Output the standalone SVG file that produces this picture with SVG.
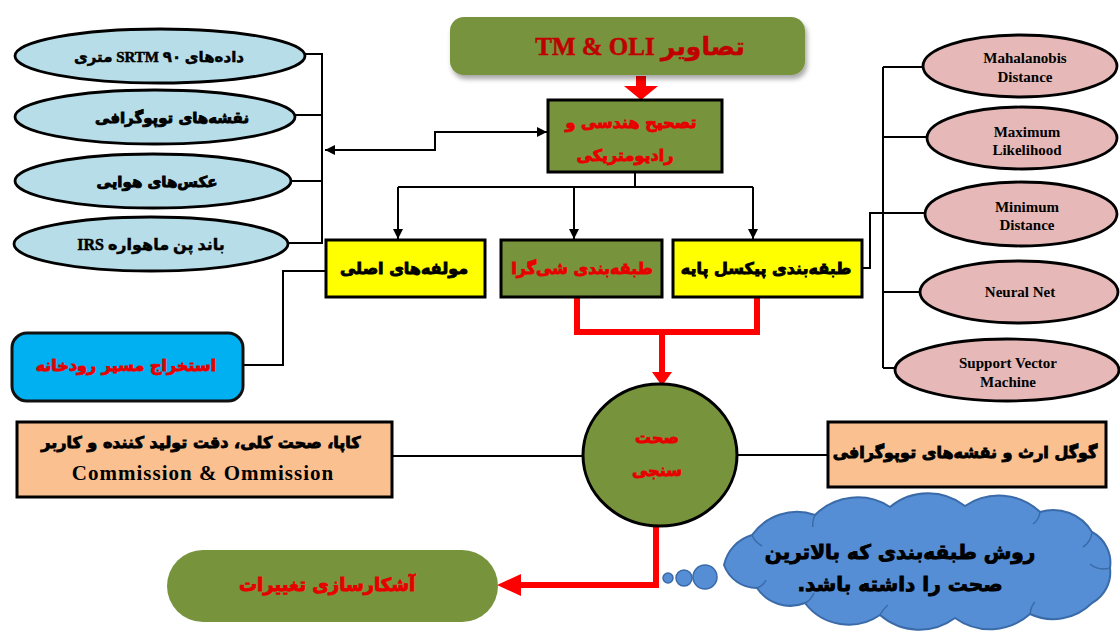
<svg xmlns="http://www.w3.org/2000/svg" width="1120" height="634" viewBox="0 0 1120 634">
<defs>
<marker id="ab" viewBox="0 0 10 10" refX="10" refY="5" markerWidth="10" markerHeight="10" markerUnits="userSpaceOnUse" orient="auto-start-reverse"><path d="M0,0 L10,5 L0,10 z" fill="#000"/></marker>
<filter id="sh" x="-10%" y="-20%" width="130%" height="160%"><feDropShadow dx="2" dy="4" stdDeviation="2.5" flood-color="#000" flood-opacity="0.35"/></filter>
</defs>
<style>
.fa{font-family:"DejaVu Sans",sans-serif;font-weight:bold;text-anchor:middle;stroke-width:0.9;}
.mx{font-family:"Liberation Serif","DejaVu Sans",serif;font-weight:bold;text-anchor:middle;stroke-width:0.5;}
.en{font-family:"Liberation Serif",serif;font-weight:bold;text-anchor:middle;}
.blue{fill:#b7dee8;stroke:#000;stroke-width:2.8;}
.pink{fill:#e6b9b8;stroke:#000;stroke-width:2.8;}
.olive{fill:#77933c;}
.box{stroke:#000;stroke-width:3;}
.ln{fill:none;stroke:#000;stroke-width:2;}
.rl{fill:none;stroke:#ff0000;stroke-width:6;}
.red{fill:#e60000;stroke:#e60000;}
.blk{fill:#000;stroke:#000;}
.cl{fill:#558ed5;stroke:#3a6aa8;}
</style>

<!-- connectors -->
<g id="connectors">
  <polyline class="ln" points="305,54 322,54 322,243 288,243"/>
  <line class="ln" x1="295" y1="115" x2="322" y2="115"/>
  <line class="ln" x1="292" y1="181" x2="322" y2="181"/>
  <polyline class="ln" points="325,150 435,150 435,132 547,132" marker-start="url(#ab)" marker-end="url(#ab)"/>
  <polygon points="636,76 646,76 646,86 658,86 641,100 624,86 636,86" fill="#ff0000"/>
  <polyline class="ln" points="635,172 635,187"/>
  <line class="ln" x1="398" y1="187" x2="753" y2="187"/>
  <line class="ln" x1="398" y1="187" x2="398" y2="239" marker-end="url(#ab)"/>
  <line class="ln" x1="574" y1="187" x2="574" y2="239" marker-end="url(#ab)"/>
  <line class="ln" x1="753" y1="187" x2="753" y2="239" marker-end="url(#ab)"/>
  <polyline class="ln" points="326,271 283,271 283,365 243,365"/>
  <polyline class="ln" points="862,268 870,268 870,213 883,213"/>
  <line class="ln" x1="883" y1="67" x2="883" y2="368"/>
  <line class="ln" x1="883" y1="67" x2="922" y2="67"/>
  <line class="ln" x1="883" y1="137" x2="927" y2="137"/>
  <line class="ln" x1="883" y1="213" x2="925" y2="213"/>
  <line class="ln" x1="883" y1="292" x2="920" y2="292"/>
  <line class="ln" x1="883" y1="368" x2="897" y2="368"/>
  <polyline class="rl" points="577,297 577,332 757,332 757,297"/>
  <line class="rl" x1="662" y1="332" x2="662" y2="374"/>
  <polygon points="652,372 672,372 662,386" fill="#ff0000"/>
  <line class="ln" x1="392" y1="456" x2="584" y2="456"/>
  <line class="ln" x1="737" y1="455" x2="828" y2="455"/>
  <polyline class="rl" points="656,524 656,585 518,585"/>
  <polygon points="521,574 521,596 497,585" fill="#ff0000"/>
</g>

<!-- left ellipses -->
<g id="srtm"><ellipse class="blue" cx="160" cy="56" rx="145" ry="27"/><text class="mx blk" x="159" y="62" font-size="15" direction="rtl">داده‌های SRTM ۹۰ متری</text></g>
<g id="topo"><ellipse class="blue" cx="155" cy="117" rx="140" ry="27"/><text class="fa blk" x="172" y="123" font-size="15" direction="rtl">نقشه‌های توپوگرافی</text></g>
<g id="aerial"><ellipse class="blue" cx="153" cy="181" rx="138" ry="27"/><text class="fa blk" x="157" y="187" font-size="15" direction="rtl">عکس‌های هوایی</text></g>
<g id="irs"><ellipse class="blue" cx="151" cy="244" rx="137" ry="27"/><text class="mx blk" x="151" y="250" font-size="16" direction="rtl">باند پن ماهواره IRS</text></g>

<!-- top title -->
<g id="images"><rect class="olive" x="450" y="17" width="355" height="58" rx="14" filter="url(#sh)"/><text class="mx" x="640" y="55" font-size="25" fill="#c00000" stroke="#c00000" direction="rtl">تصاویر TM &amp; OLI</text></g>

<!-- correction -->
<g id="correction"><rect class="olive box" x="548" y="100" width="174" height="72"/>
<text class="fa red" x="631" y="128" font-size="16" direction="rtl">تصحیح هندسی و</text>
<text class="fa red" x="625" y="161" font-size="16" direction="rtl">رادیومتریکی</text></g>

<!-- three methods -->
<g id="pca"><rect class="box" fill="#ffff00" x="326" y="240" width="159" height="57"/><text class="fa blk" x="404" y="274" font-size="16" direction="rtl">مولفه‌های اصلی</text></g>
<g id="obia"><rect class="olive box" x="501" y="240" width="161" height="57"/><text class="fa red" x="582" y="274" font-size="16" direction="rtl">طبقه‌بندی شی‌گرا</text></g>
<g id="pixel"><rect class="box" fill="#ffff00" x="673" y="240" width="189" height="57"/><text class="fa blk" x="766" y="274" font-size="16" direction="rtl">طبقه‌بندی پیکسل پایه</text></g>

<!-- right ellipses -->
<g id="mahalanobis"><ellipse class="pink" cx="1020" cy="66" rx="97" ry="31"/><text class="en" font-size="15"><tspan x="1025" y="63">Mahalanobis</tspan><tspan x="1025" y="82">Distance</tspan></text></g>
<g id="maxlike"><ellipse class="pink" cx="1022" cy="138" rx="95" ry="31"/><text class="en" font-size="15"><tspan x="1027" y="137">Maximum</tspan><tspan x="1027" y="155">Likelihood</tspan></text></g>
<g id="mindist"><ellipse class="pink" cx="1021" cy="214" rx="96" ry="32"/><text class="en" font-size="15"><tspan x="1027" y="212">Minimum</tspan><tspan x="1027" y="230">Distance</tspan></text></g>
<g id="neural"><ellipse class="pink" cx="1019" cy="292" rx="99" ry="31"/><text class="en" x="1020" y="297" font-size="15">Neural Net</text></g>
<g id="svm"><ellipse class="pink" cx="1007" cy="370" rx="112" ry="31"/><text class="en" font-size="15"><tspan x="1008" y="368">Support Vector</tspan><tspan x="1008" y="387">Machine</tspan></text></g>

<!-- river extraction -->
<g id="river"><rect x="12" y="333" width="231" height="68" rx="15" fill="#00b0f0" stroke="#111" stroke-width="3"/><text class="fa red" x="126" y="371" font-size="16" direction="rtl">استخراج مسیر رودخانه</text></g>

<!-- accuracy metrics -->
<g id="metrics"><rect class="box" fill="#fac090" x="17" y="422" width="375" height="75"/>
<text class="fa blk" x="201" y="448" font-size="16" direction="rtl">کاپا، صحت کلی، دقت تولید کننده و کاربر</text>
<text class="en" x="203" y="480" font-size="21" letter-spacing="1">Commission &amp; Ommission</text></g>

<!-- accuracy assessment -->
<g id="accuracy"><ellipse class="olive box" cx="660" cy="455" rx="77" ry="71"/>
<text class="fa red" x="657" y="443" font-size="16" direction="rtl">صحت</text>
<text class="fa red" x="657" y="476" font-size="16" direction="rtl">سنجی</text></g>

<!-- reference data -->
<g id="refdata"><rect class="box" fill="#fac090" x="828" y="422" width="278" height="65"/><text class="fa blk" x="965" y="458" font-size="16" direction="rtl">گوگل ارث و نقشه‌های توپوگرافی</text></g>

<!-- change detection -->
<g id="change"><rect class="olive" x="167" y="550" width="331" height="72" rx="36"/><text class="fa red" x="327" y="591" font-size="18" direction="rtl">آشکارسازی تغییرات</text></g>

<!-- cloud -->
<g id="cloud">
  <circle class="cl" cx="668" cy="578" r="5" stroke-width="1.5"/>
  <circle class="cl" cx="684" cy="578" r="8" stroke-width="1.5"/>
  <circle class="cl" cx="705" cy="577" r="12" stroke-width="1.5"/>
  <path class="cl" stroke-width="2" d="M 724 565 A 40 40 0 0 1 752 535 A 55 55 0 0 1 815 515 A 60 60 0 0 1 890 507 A 60 60 0 0 1 965 506 A 60 60 0 0 1 1040 512 A 45 45 0 0 1 1092 532 A 35 35 0 0 1 1110 568 A 35 35 0 0 1 1092 603 A 55 55 0 0 1 1030 614 A 60 60 0 0 1 955 618 A 60 60 0 0 1 880 615 A 55 55 0 0 1 805 603 A 40 40 0 0 1 757 588 A 35 35 0 0 1 724 565 Z"/>
  <path d="M752 535 q3 7 10 11 M815 515 q-3 6 -2 12 M1040 512 q-1 8 -7 12 M1092 532 q-1 10 -9 15 M1110 568 q-12 3 -20 -4 M1030 614 q1 -8 5 -12 M880 615 q3 -6 8 -10 M805 603 q6 -3 9 -10 M757 588 q6 -2 9 -8" fill="none" stroke="#3a6aa8" stroke-width="1.5"/>
  <text class="fa blk" x="900" y="559" font-size="20" stroke-width="1.1" direction="rtl">روش طبقه‌بندی که بالاترین</text>
  <text class="fa blk" x="900" y="591" font-size="20" stroke-width="1.1" direction="rtl">صحت را داشته باشد.</text>
</g>
</svg>
